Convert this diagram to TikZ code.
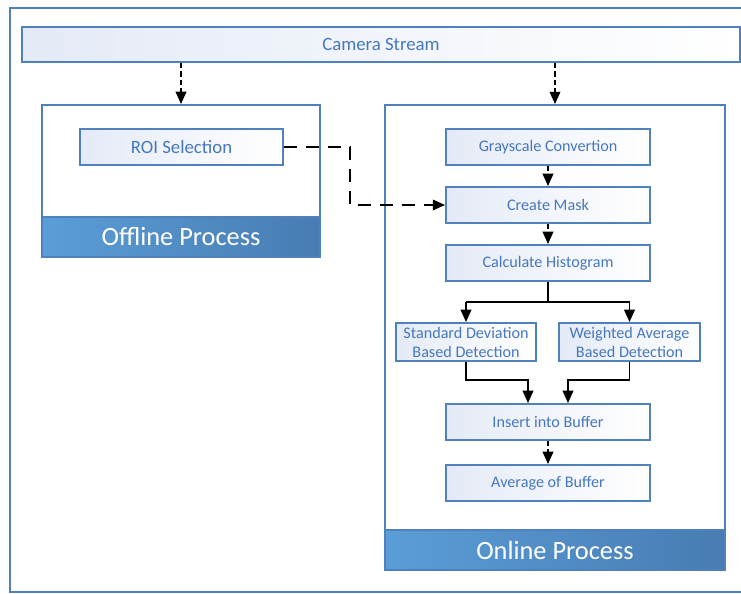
\documentclass[tikz,border=0pt]{standalone}
\usepackage{fontspec}
\setmainfont{Carlito}
\usetikzlibrary{arrows.meta,positioning,calc}
\definecolor{boxline}{RGB}{79,129,189}
\definecolor{boxtext}{RGB}{70,120,190}
\definecolor{boxfill}{RGB}{228,234,246}
\definecolor{bandleft}{RGB}{91,157,215}
\definecolor{bandright}{RGB}{72,124,178}

\tikzset{
  stepbox/.style={draw=boxline, line width=1.1pt, left color=boxfill, middle color=white, right color=white,
    text=boxtext, font=\fontsize{9.2}{10.8}\selectfont, inner sep=0pt, align=center,
    minimum width=4.08cm, minimum height=0.72cm},
  bigtext/.style={font=\fontsize{10.7}{12}\selectfont},
  panel/.style={draw=boxline, line width=1.1pt, fill=white, inner sep=0pt},
  band/.style={draw=boxline, line width=1.1pt, left color=bandleft, right color=bandright,
    text=white, font=\fontsize{15}{17}\selectfont, inner sep=0pt, minimum height=0.8cm},
  dotline/.style={line width=1.1pt, dash pattern=on 3pt off 1.8pt, -{Triangle[length=7pt,width=6pt]}},
  longdash/.style={line width=1.1pt, dash pattern=on 7.5pt off 5pt, -{Triangle[length=7pt,width=6pt]}},
  flow/.style={line width=1.1pt, -{Triangle[length=7pt,width=6pt]}}
}

\begin{document}
\begin{tikzpicture}[x=0.02cm, y=-0.02cm]
    \useasboundingbox (0,0) rectangle (741,594);

    % Outer frame
    \draw[boxline, line width=1.1pt] (10,8) rectangle (760,592);

    % Input
    \node[stepbox, bigtext, minimum width=14.36cm, minimum height=0.7cm] (cam) at (381,44.5) {Camera Stream};

    % Offline panel
    \node[panel, minimum width=5.56cm, minimum height=3.04cm] (offline) at (181,181) {};
    \node[band, minimum width=5.56cm] (offlinelbl) at (181,237) {Offline Process};
    \node[stepbox, bigtext, minimum width=4.06cm] (roi) at (181.5,147) {ROI Selection};

    % Online panel
    \node[panel, minimum width=6.8cm, minimum height=9.3cm] (online) at (555,337.5) {};
    \node[band, minimum width=6.8cm] (onlinelbl) at (555,550) {Online Process};

    \node[stepbox] (gray) at (548,147) {Grayscale Convertion};
    \node[stepbox] (mask) at (548,205) {Create Mask};
    \node[stepbox] (hist) at (548,263) {Calculate Histogram};
    \node[stepbox, minimum width=2.8cm, minimum height=0.76cm] (std) at (466,342) {Standard Deviation\\Based Detection};
    \node[stepbox, minimum width=2.82cm, minimum height=0.76cm] (wavg) at (629.5,342) {Weighted Average\\Based Detection};
    \node[stepbox] (buf) at (548,422) {Insert into Buffer};
    \node[stepbox] (avg) at (548,483) {Average of Buffer};

    % Helper points
    \coordinate (split) at (548,302);
    \coordinate (bend) at (350,176);
    \coordinate (jl) at (528,380);
    \coordinate (jr) at (568,380);

    % Connectors
    \draw[dotline] (cam.south -| offline.north) -- (offline.north);
    \draw[dotline] (cam.south -| online.north) -- (online.north);
    \draw[longdash] (roi.east) -| (bend) |- (mask.west);
    \draw[dotline] (gray) -- (mask);
    \draw[dotline] (mask) -- (hist);
    \draw[line width=1.1pt] (hist.south) -- (split);
    \draw[line width=1.1pt] (split -| std.north) -- (split -| wavg.north);
    \draw[flow] (split -| std.north) -- (std.north);
    \draw[flow] (split -| wavg.north) -- (wavg.north);
    \draw[flow] (std.south) |- (jl) -- (jl |- buf.north);
    \draw[flow] (wavg.south) |- (jr) -- (jr |- buf.north);
    \draw[dotline] (buf) -- (avg);
\end{tikzpicture}
\end{document}
